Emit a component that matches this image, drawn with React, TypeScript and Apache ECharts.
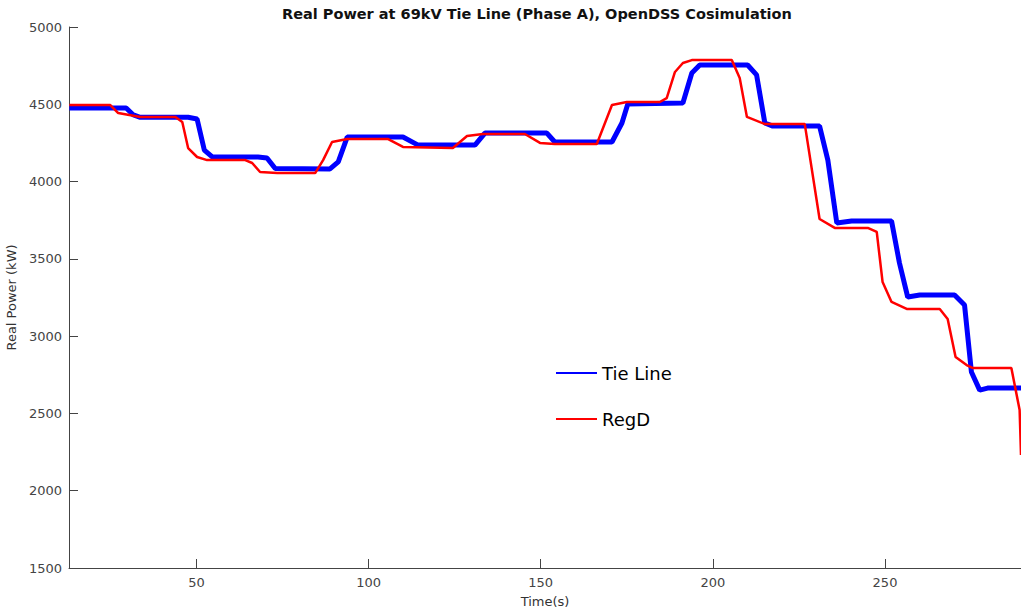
import React, { useEffect, useRef } from "react";
import * as echarts from "echarts";

const tieLineTime = [13.1, 29.6, 31.7, 33.7, 47.6, 50.2, 52.3, 54.6, 67.9, 70.5, 72.9, 88.8, 91.2, 93.8, 110.0, 114.4, 130.9, 133.8, 151.8, 154.1, 170.7, 173.6, 175.3, 191.3, 193.9, 196.2, 210.1, 212.7, 215.1, 217.4, 231.0, 233.4, 236.0, 240.3, 251.9, 254.2, 256.6, 260.1, 270.2, 273.1, 275.1, 277.5, 279.8, 289.5];
const tieLinePower = [4476, 4476, 4431, 4416, 4416, 4405, 4204, 4159, 4159, 4153, 4085, 4082, 4127, 4288, 4288, 4236, 4236, 4314, 4314, 4256, 4256, 4379, 4502, 4508, 4702, 4754, 4754, 4690, 4379, 4359, 4359, 4139, 3732, 3745, 3745, 3473, 3253, 3266, 3266, 3201, 2768, 2651, 2664, 2664];

const regDTime = [13.1, 25.0, 27.3, 33.7, 43.9, 45.9, 47.6, 50.2, 53.1, 64.2, 66.2, 68.5, 73.5, 84.5, 86.8, 89.4, 93.8, 105.7, 110.0, 124.5, 128.6, 133.2, 145.4, 149.8, 154.1, 166.3, 170.7, 175.0, 184.6, 186.6, 189.0, 191.3, 193.9, 205.5, 207.8, 209.9, 215.1, 226.7, 231.0, 235.4, 245.0, 247.6, 249.3, 251.9, 256.3, 265.9, 268.2, 270.5, 273.7, 275.4, 286.7, 289.1, 289.5];
const regDPower = [4495, 4495, 4443, 4418, 4418, 4385, 4217, 4159, 4139, 4139, 4120, 4062, 4055, 4055, 4139, 4256, 4275, 4275, 4224, 4217, 4295, 4308, 4308, 4250, 4243, 4243, 4495, 4515, 4515, 4540, 4709, 4767, 4786, 4786, 4670, 4418, 4372, 4372, 3758, 3700, 3700, 3674, 3350, 3221, 3176, 3176, 3111, 2865, 2813, 2794, 2794, 2522, 2231];

const xTicks = [50, 100, 150, 200, 250];

const pairs = (xs: number[], ys: number[]) => xs.map((x, i) => [x, ys[i]]);

export default function App() {
  const ref = useRef<HTMLDivElement>(null);
  useEffect(() => {
    if (!ref.current) return;
    const chart = echarts.init(ref.current, undefined, { renderer: "svg" });
    const font = "DejaVu Sans";
    chart.setOption({
      animation: false,
      backgroundColor: "#ffffff",
      title: {
        text: "Real Power at 69kV Tie Line (Phase A), OpenDSS Cosimulation",
        left: 277,
        top: 1,
        textStyle: { fontFamily: font, fontSize: 14.5, fontWeight: "bold", color: "#111" },
      },
      legend: {
        orient: "vertical",
        left: 550,
        top: 359,
        itemWidth: 41,
        itemHeight: 20,
        itemGap: 28,
        itemStyle: { opacity: 0 },
        textStyle: { fontFamily: font, fontSize: 18, color: "#000" },
        data: ["Tie Line", "RegD"],
      },
      grid: { left: 69, right: 0, top: 27, bottom: 43, containLabel: false, outerBoundsMode: "none" },
      xAxis: {
        type: "value",
        min: 13,
        max: 289.5,
        name: "Time(s)",
        nameLocation: "middle",
        nameGap: 27,
        nameTextStyle: { fontFamily: font, fontSize: 13, color: "#333" },
        axisLine: { show: true, lineStyle: { color: "#444", width: 1 } },
        axisTick: { show: true, inside: true, length: 9, customValues: xTicks, lineStyle: { color: "#444" } },
        axisLabel: { customValues: xTicks, fontFamily: font, fontSize: 13, color: "#444", margin: 8 },
        splitLine: { show: false },
      },
      yAxis: {
        type: "value",
        min: 1500,
        max: 5000,
        interval: 500,
        name: "Real Power (kW)",
        nameLocation: "middle",
        nameGap: 42,
        nameTextStyle: { fontFamily: font, fontSize: 13, color: "#333" },
        axisLine: { show: true, lineStyle: { color: "#444", width: 1 } },
        axisTick: { show: true, inside: true, length: 9, lineStyle: { color: "#444" } },
        axisLabel: { fontFamily: font, fontSize: 13, color: "#444", margin: 7, formatter: (v: number) => String(v) },
        splitLine: { show: false },
      },
      series: [
        {
          name: "Tie Line",
          type: "line",
          symbol: "none",
          data: pairs(tieLineTime, tieLinePower),
          lineStyle: { color: "#0000ff", width: 5 },
          itemStyle: { color: "#0000ff" },
        },
        {
          name: "RegD",
          type: "line",
          symbol: "none",
          data: pairs(regDTime, regDPower),
          lineStyle: { color: "#ff0000", width: 2.5 },
          itemStyle: { color: "#ff0000" },
        },
      ],
    });
    return () => chart.dispose();
  }, []);
  return (
    <div
      ref={ref}
      style={{ position: "absolute", left: 0, top: 0, width: 1021, height: 611 }}
    />
  );
}
